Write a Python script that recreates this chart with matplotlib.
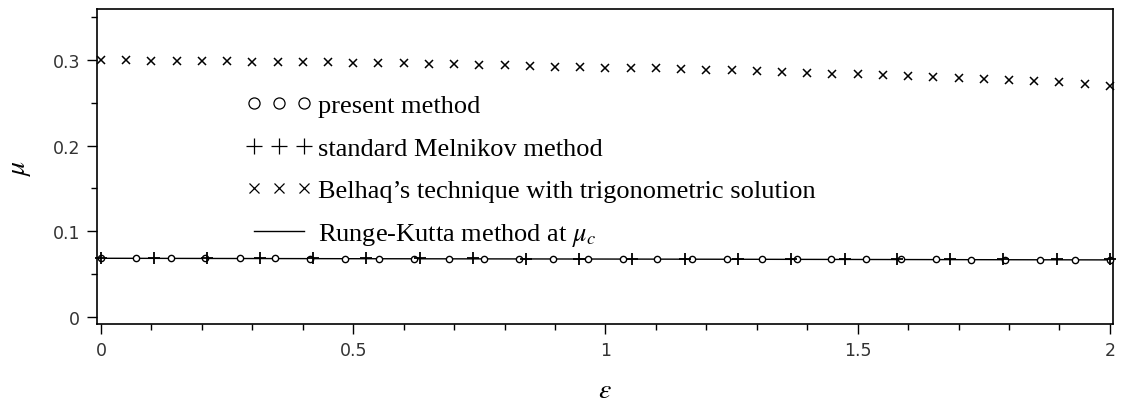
import numpy as np
import matplotlib
matplotlib.use("Agg")
import matplotlib.pyplot as plt
from matplotlib.lines import Line2D
from matplotlib.ticker import MultipleLocator

plt.rcParams['mathtext.fontset'] = 'stix'

# Belhaq's technique (x markers)
eps_belhaq = [0.0, 0.05, 0.1, 0.15, 0.2, 0.25, 0.3, 0.35, 0.4, 0.45,
              0.5, 0.55, 0.6, 0.65, 0.7, 0.75, 0.8, 0.85, 0.9, 0.95,
              1.0, 1.05, 1.1, 1.15, 1.2, 1.25, 1.3, 1.35, 1.4, 1.45,
              1.5, 1.55, 1.6, 1.65, 1.7, 1.75, 1.8, 1.85, 1.9, 1.95, 2.0]
mu_belhaq = [0.300, 0.300, 0.299, 0.299, 0.299, 0.299, 0.298, 0.298, 0.298, 0.297,
             0.296, 0.296, 0.296, 0.295, 0.295, 0.294, 0.294, 0.293, 0.292, 0.292,
             0.291, 0.290, 0.290, 0.289, 0.288, 0.288, 0.287, 0.286, 0.285, 0.284,
             0.283, 0.282, 0.281, 0.280, 0.279, 0.278, 0.277, 0.275, 0.274, 0.272, 0.270]

# present method (circles)
eps_present = [0.0, 0.069, 0.138, 0.207, 0.276, 0.345, 0.414, 0.483, 0.552, 0.621,
               0.690, 0.759, 0.828, 0.897, 0.966, 1.034, 1.103, 1.172, 1.241, 1.310,
               1.379, 1.448, 1.517, 1.586, 1.655, 1.724, 1.793, 1.862, 1.931, 2.0]
mu_present = [0.0685, 0.0685, 0.0684, 0.0684, 0.0683, 0.0683, 0.0682, 0.0682, 0.0681, 0.0681,
              0.0680, 0.0680, 0.0679, 0.0679, 0.0678, 0.0678, 0.0677, 0.0677, 0.0676, 0.0676,
              0.0675, 0.0674, 0.0673, 0.0672, 0.0671, 0.0670, 0.0669, 0.0668, 0.0667, 0.0666]

# standard Melnikov method (plus)
eps_melnikov = [0.0, 0.105, 0.211, 0.316, 0.421, 0.526, 0.632, 0.737, 0.842, 0.947,
                1.053, 1.158, 1.263, 1.368, 1.474, 1.579, 1.684, 1.789, 1.895, 2.0]
mu_melnikov = [0.0690, 0.0689, 0.0688, 0.0687, 0.0686, 0.0685, 0.0684, 0.0683, 0.0682, 0.0681,
               0.0680, 0.0679, 0.0678, 0.0677, 0.0676, 0.0675, 0.0674, 0.0673, 0.0672, 0.0671]

# Runge-Kutta critical value
eps_rk = [0.0, 0.5, 1.0, 1.5, 2.0]
mu_rk = [0.0685, 0.0680, 0.0676, 0.0671, 0.0666]

fig = plt.figure(figsize=(11.23, 4.06), dpi=100)
ax = fig.add_axes([0.0861, 0.1995, 0.9049, 0.7759])

ax.plot(eps_rk, mu_rk, color='black', lw=1.0, zorder=2)
ax.plot(eps_present, mu_present, ls='none', marker='o', ms=4.5, mfc='white',
        mec='black', mew=1.0, zorder=3, clip_on=False)
ax.plot(eps_melnikov, mu_melnikov, ls='none', marker='+', ms=9, mec='black',
        mew=1.3, zorder=4, clip_on=False)
ax.plot(eps_belhaq, mu_belhaq, ls='none', marker='x', ms=5.5, mec='black',
        mew=1.1, zorder=4, clip_on=False)

ax.set_xlim(-0.0085, 2.006)
ax.set_ylim(-0.0082, 0.3594)

ax.xaxis.set_major_locator(MultipleLocator(0.5))
ax.xaxis.set_minor_locator(MultipleLocator(0.1))
ax.yaxis.set_major_locator(MultipleLocator(0.1))
ax.yaxis.set_minor_locator(MultipleLocator(0.05))
ax.set_xticks([0, 0.5, 1, 1.5, 2])
ax.set_xticklabels(['0', '0.5', '1', '1.5', '2'])
ax.set_yticks([0, 0.1, 0.2, 0.3])
ax.set_yticklabels(['0', '0.1', '0.2', '0.3'])
ax.tick_params(which='major', direction='out', length=7, width=1.0,
               labelsize=12.5, labelcolor='#333333', pad=5)
ax.tick_params(which='minor', direction='out', length=4.5, width=1.0)
for s in ax.spines.values():
    s.set_linewidth(1.2)

ax.set_xlabel(r'$\varepsilon$', fontsize=20, labelpad=12)
ax.set_ylabel(r'$\mu$', fontsize=20, labelpad=14)

handles = [
    Line2D([], [], ls='none', marker='o', ms=8, mfc='none', mec='black', mew=0.9),
    Line2D([], [], ls='none', marker='+', ms=11, mec='black', mew=0.9),
    Line2D([], [], ls='none', marker='x', ms=7, mec='black', mew=0.9),
    Line2D([], [], color='black', lw=1.0),
]
labels = ['present method', 'standard Melnikov method',
          'Belhaq\u2019s technique with trigonometric solution',
          r'Runge-Kutta method at $\mu_c$']
ax.legend(handles, labels, loc='upper left', bbox_to_anchor=(0.134, 0.772),
          numpoints=3, frameon=False, borderpad=0, handlelength=2.5,
          handletextpad=0.23, labelspacing=0.72,
          prop={'family': ['Liberation Serif', 'DejaVu Serif'], 'size': 19})

fig.savefig('out.png', dpi=100)
